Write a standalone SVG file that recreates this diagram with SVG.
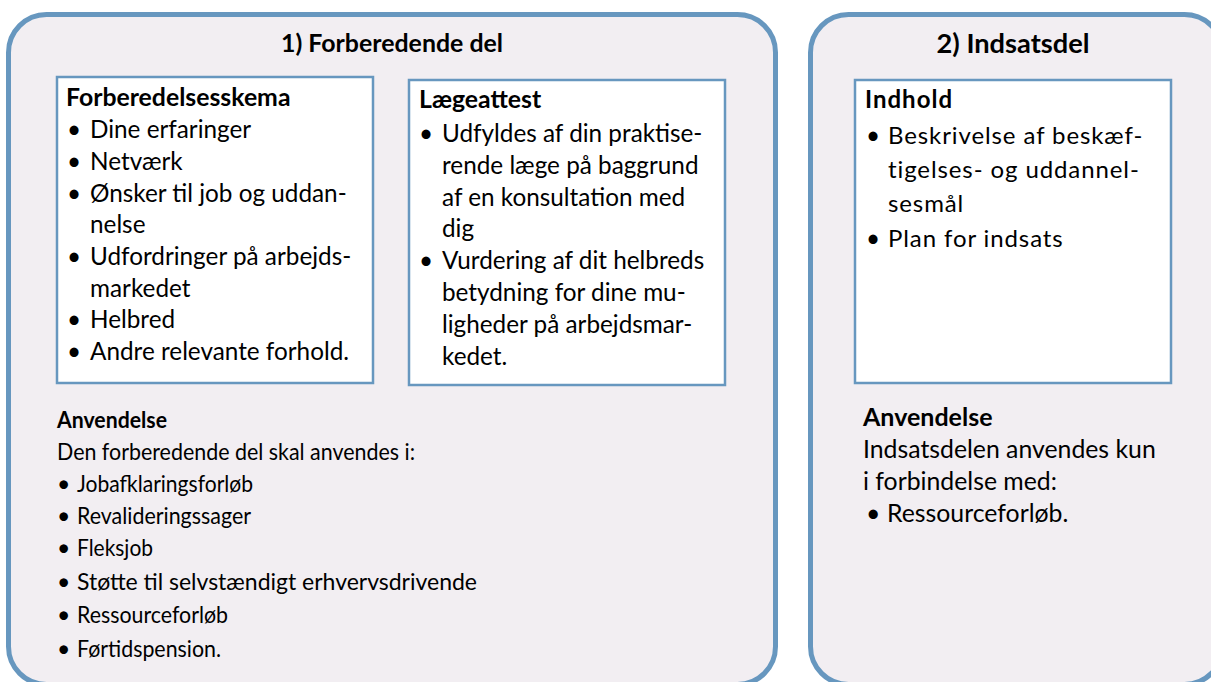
<svg xmlns="http://www.w3.org/2000/svg" width="1211" height="682" viewBox="0 0 1211 682">
<style>
.outer{fill:#f2eef2;stroke:#6797bf;stroke-width:5}
.inner{fill:#ffffff;stroke:#6797bf;stroke-width:2.5}
text{font-family:Lato,"Liberation Sans",sans-serif;fill:#000;font-size:24.3px}
.b{font-weight:bold;font-size:24.8px}
.t{font-weight:bold;font-size:25px;text-anchor:middle}
.s{font-size:23px}
.sb{font-size:23px;font-weight:bold}
.r{font-size:24.8px}
.rb{font-size:25px;font-weight:bold}
.sp{letter-spacing:0.9px;font-size:24px}
</style>
<rect width="1211" height="682" fill="#ffffff"/>
<g id="forberedende">
<rect class="outer" x="8.5" y="14.5" width="767" height="670" rx="38"/>
<text class="t" x="392" y="52" textLength="222" lengthAdjust="spacingAndGlyphs">1) Forberedende del</text>
</g>
<g id="forberedelsesskema">
<rect class="inner" x="57" y="77" width="316" height="306"/>
<text class="b" x="66" y="106">Forberedelsesskema</text>
<text x="67" y="138">•</text><text x="90" y="138">Dine erfaringer</text>
<text x="67" y="170">•</text><text x="90" y="170">Netværk</text>
<text x="67" y="202">•</text><text x="90" y="202">Ønsker til job og uddan-</text>
<text x="90" y="233">nelse</text>
<text x="67" y="265">•</text><text x="90" y="265">Udfordringer på arbejds-</text>
<text x="90" y="297">markedet</text>
<text x="67" y="328">•</text><text x="90" y="328">Helbred</text>
<text x="67" y="360">•</text><text x="90" y="360">Andre relevante forhold.</text>
</g>
<g id="laegeattest">
<rect class="inner" x="409" y="80" width="316" height="305"/>
<text class="b" x="419" y="108">Lægeattest</text>
<text x="419" y="142">•</text><text x="442" y="142">Udfyldes af din praktise-</text>
<text x="442" y="174">rende læge på baggrund</text>
<text x="442" y="206">af en konsultation med</text>
<text x="442" y="237">dig</text>
<text x="419" y="269">•</text><text x="442" y="269">Vurdering af dit helbreds</text>
<text x="442" y="301">betydning for dine mu-</text>
<text x="442" y="333">ligheder på arbejdsmar-</text>
<text x="442" y="365">kedet.</text>
</g>
<g id="anvendelse1">
<text class="sb" x="57" y="428" textLength="110" lengthAdjust="spacingAndGlyphs">Anvendelse</text>
<text class="s" x="57" y="460" textLength="358" lengthAdjust="spacingAndGlyphs">Den forberedende del skal anvendes i:</text>
<text class="s" x="57" y="492">•</text><text class="s" x="77" y="492" textLength="176" lengthAdjust="spacingAndGlyphs">Jobafklaringsforløb</text>
<text class="s" x="57" y="524">•</text><text class="s" x="77" y="524" textLength="174" lengthAdjust="spacingAndGlyphs">Revalideringssager</text>
<text class="s" x="57" y="556">•</text><text class="s" x="77" y="556" textLength="76" lengthAdjust="spacingAndGlyphs">Fleksjob</text>
<text class="s" x="57" y="590">•</text><text class="s" x="77" y="590" textLength="400" lengthAdjust="spacing">Støtte til selvstændigt erhvervsdrivende</text>
<text class="s" x="57" y="623">•</text><text class="s" x="77" y="623" textLength="151" lengthAdjust="spacingAndGlyphs">Ressourceforløb</text>
<text class="s" x="57" y="657">•</text><text class="s" x="77" y="657" textLength="144" lengthAdjust="spacingAndGlyphs">Førtidspension.</text>
</g>
<g id="indsatsdel">
<rect class="outer" x="810.5" y="14.5" width="412" height="670" rx="38"/>
<text class="t" x="1013" y="53" textLength="153" lengthAdjust="spacingAndGlyphs" style="font-size:27px">2) Indsatsdel</text>
</g>
<g id="indhold">
<rect class="inner" x="855" y="80" width="316" height="303"/>
<text class="b" x="865" y="108" style="letter-spacing:1px;font-size:24px">Indhold</text>
<text x="866" y="144">•</text><text class="sp" x="888" y="144">Beskrivelse af beskæf-</text>
<text class="sp" x="888" y="178">tigelses- og uddannel-</text>
<text class="sp" x="888" y="212">sesmål</text>
<text x="866" y="247">•</text><text class="sp" x="888" y="247">Plan for indsats</text>
</g>
<g id="anvendelse2">
<text class="rb" x="863" y="426">Anvendelse</text>
<text class="r" x="863" y="458">Indsatsdelen anvendes kun</text>
<text class="r" x="863" y="490">i forbindelse med:</text>
<text class="r" x="866" y="522">•</text><text class="r" x="887" y="522">Ressourceforløb.</text>
</g>
<g id="connectors"/>
</svg>
